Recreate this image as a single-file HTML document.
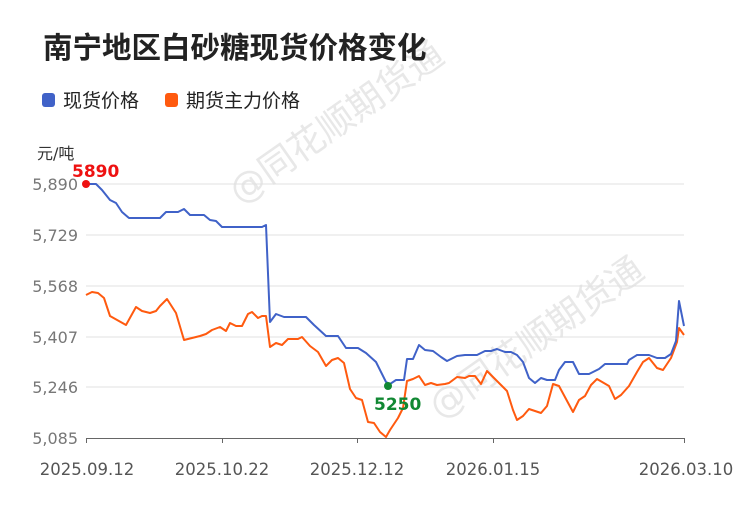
<!DOCTYPE html>
<html><head><meta charset="utf-8"><style>
body{margin:0;background:#fff;}
svg text{font-family:"DejaVu Sans","Noto Sans CJK SC",sans-serif;}
</style></head><body>
<svg width="735" height="500" xmlns="http://www.w3.org/2000/svg">
<rect width="735" height="500" fill="#fff"/>
<g fill="#e8e8e8" font-size="36">
<text transform="translate(240,205) rotate(-35)">@同花顺期货通</text>
<text transform="translate(440,420) rotate(-35)">@同花顺期货通</text>
</g>
<text x="43" y="58" font-size="29.5" font-weight="bold" fill="#222" font-family="Noto Sans CJK SC,sans-serif">南宁地区白砂糖现货价格变化</text>
<rect x="42" y="93" width="13" height="14" rx="3" fill="#4062c8"/>
<text x="63" y="107" font-size="19" fill="#222">现货价格</text>
<rect x="165" y="93" width="13" height="14" rx="3" fill="#ff5a0f"/>
<text x="186" y="107" font-size="19" fill="#222">期货主力价格</text>
<text x="37" y="159" font-size="16" fill="#333">元/吨</text>
<g stroke="#e0e0e0" stroke-width="1">
<line x1="86" y1="184" x2="684" y2="184"/><line x1="86" y1="235" x2="684" y2="235"/>
<line x1="86" y1="286" x2="684" y2="286"/><line x1="86" y1="337" x2="684" y2="337"/>
<line x1="86" y1="387" x2="684" y2="387"/>
</g>
<g stroke="#666" stroke-width="1">
<line x1="86" y1="438.5" x2="684" y2="438.5"/>
<line x1="86.5" y1="438" x2="86.5" y2="443"/><line x1="222.5" y1="438" x2="222.5" y2="443"/>
<line x1="357.5" y1="438" x2="357.5" y2="443"/><line x1="493.5" y1="438" x2="493.5" y2="443"/>
<line x1="684.5" y1="438" x2="684.5" y2="443"/>
</g>
<g font-size="16" fill="#777" text-anchor="end">
<text x="78" y="190">5,890</text><text x="78" y="241">5,729</text><text x="78" y="292">5,568</text>
<text x="78" y="343">5,407</text><text x="78" y="393">5,246</text><text x="78" y="444">5,085</text>
</g>
<g font-size="16.5" fill="#555" text-anchor="middle">
<text x="87" y="475">2025.09.12</text><text x="222" y="475">2025.10.22</text>
<text x="357" y="475">2025.12.12</text><text x="493" y="475">2026.01.15</text>
<text x="686" y="475">2026.03.10</text>
</g>
<polyline fill="none" stroke="#ff5a0f" stroke-width="2" stroke-linejoin="round" points="86,295 92,292 98,293 104,298 110,316 126,325 136,307 142,311 150,313 156,311 160,306 167,299 176,313 184,340 200,336 206,334 212,330 220,327 226,331 230,323 236,326 242,326 248,314 252,312 258,318 262,316 266,316 270,347 276,343 282,345 288,339 298,339 302,337 310,346 318,352 322,359 326,366 332,360 338,358 344,363 350,389 356,398 362,400 368,422 374,423 380,432 386,437 390,430 398,418 403,408 407,381 413,379 419,376 425,385 431,383 437,385 445,384 449,383 457,377 465,378 469,376 475,376 481,384 487,371 501,385 507,391 513,410 517,420 523,416 529,409 535,411 541,413 547,406 553,384 559,386 573,412 579,400 585,396 591,385 597,379 609,386 615,399 621,395 629,386 637,372 643,362 649,358 657,368 663,370 671,358 677,342 679,328 684,335"/>
<polyline fill="none" stroke="#4062c8" stroke-width="2" stroke-linejoin="round" points="86,184 96,184 102,190 110,200 116,203 122,212 129,218 160,218 166,212 178,212 184,209 190,215 204,215 210,220 216,221 222,227 262,227 266,225 270,322 276,314 284,317 306,317 314,325 326,336 338,336 346,348 358,348 366,353 376,362 386,382 390,384 396,380 404,380 407,359 413,359 419,345 425,350 433,351 441,357 447,361 457,356 465,355 477,355 485,351 491,351 497,349 505,352 511,352 517,355 523,362 529,378 535,383 541,378 547,380 555,380 559,370 565,362 573,362 579,374 589,374 599,369 605,364 627,364 629,360 637,355 649,355 657,358 665,358 671,354 676,341 679,301 684,326"/>
<circle cx="86" cy="184" r="4" fill="#ee1111"/>
<text x="72" y="177" font-size="17" font-weight="bold" fill="#ee1111">5890</text>
<circle cx="388" cy="386" r="4" fill="#118833"/>
<text x="374" y="410" font-size="17" font-weight="bold" fill="#118833">5250</text>
</svg>
</body></html>
